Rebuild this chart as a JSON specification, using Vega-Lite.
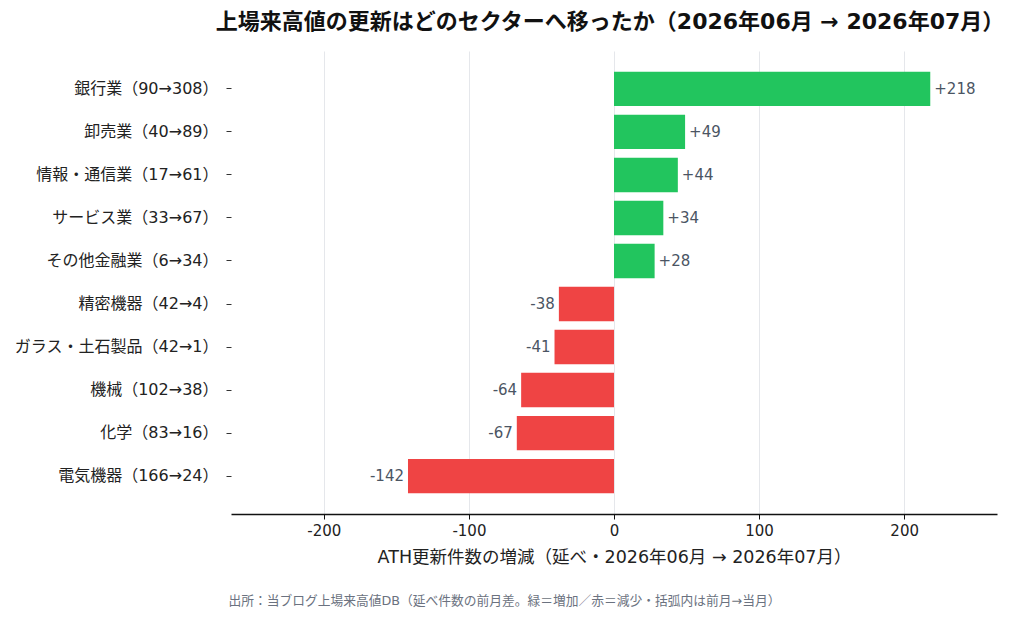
{
  "$schema": "https://vega.github.io/schema/vega-lite/v6.json",
  "width": 766,
  "height": 463,
  "autosize": {"type": "none"},
  "padding": {"left": 231, "top": 51, "right": 27, "bottom": 106},
  "background": "white",
  "config": {
    "font": "DejaVu Sans, Noto Sans CJK JP",
    "view": {"stroke": null},
    "locale": {
      "number": {
        "decimal": ".",
        "thousands": ",",
        "grouping": [3],
        "currency": ["$", ""],
        "minus": "-"
      }
    }
  },
  "title": {
    "text": "上場来高値の更新はどのセクターへ移ったか（2026年06月 → 2026年07月）",
    "fontSize": 22,
    "fontWeight": "bold",
    "color": "#111111",
    "anchor": "middle",
    "dx": -4,
    "offset": 17
  },
  "data": {
    "values": [
      {"label": "銀行業（90→308）", "delta": 218},
      {"label": "卸売業（40→89）", "delta": 49},
      {"label": "情報・通信業（17→61）", "delta": 44},
      {"label": "サービス業（33→67）", "delta": 34},
      {"label": "その他金融業（6→34）", "delta": 28},
      {"label": "精密機器（42→4）", "delta": -38},
      {"label": "ガラス・土石製品（42→1）", "delta": -41},
      {"label": "機械（102→38）", "delta": -64},
      {"label": "化学（83→16）", "delta": -67},
      {"label": "電気機器（166→24）", "delta": -142}
    ]
  },
  "encoding": {
    "y": {
      "field": "label",
      "type": "nominal",
      "sort": null,
      "scale": {"paddingInner": 0.2, "paddingOuter": 0.48},
      "axis": {
        "title": null,
        "domain": false,
        "ticks": true,
        "tickSize": 5,
        "tickColor": "#333333",
        "labelPadding": 8,
        "labelFontSize": 16,
        "labelColor": "#222222",
        "labelLimit": 300
      }
    }
  },
  "layer": [
    {
      "mark": {"type": "bar"},
      "encoding": {
        "x": {
          "field": "delta",
          "type": "quantitative",
          "scale": {"domain": [-264, 264], "nice": false, "zero": false},
          "axis": {
            "title": "ATH更新件数の増減（延べ・2026年06月 → 2026年07月）",
            "titleFontSize": 17.5,
            "titleFontWeight": "normal",
            "titleColor": "#222222",
            "titlePadding": 10,
            "values": [-200, -100, 0, 100, 200],
            "labelFontSize": 15,
            "labelColor": "#222222",
            "labelPadding": 4,
            "grid": true,
            "gridColor": "#e5e7eb",
            "domainColor": "#111111",
            "domainWidth": 1.3,
            "tickColor": "#111111",
            "tickSize": 5
          }
        },
        "color": {
          "condition": {"test": "datum.delta > 0", "value": "#22c55e"},
          "value": "#ef4444"
        }
      }
    },
    {
      "transform": [{"filter": "datum.delta > 0"}],
      "mark": {"type": "text", "align": "left", "dx": 4, "fontSize": 15, "color": "#4b5563"},
      "encoding": {
        "x": {"field": "delta", "type": "quantitative", "axis": null},
        "text": {"field": "delta", "type": "quantitative", "format": "+d"}
      }
    },
    {
      "transform": [{"filter": "datum.delta < 0"}],
      "mark": {"type": "text", "align": "right", "dx": -4, "fontSize": 15, "color": "#4b5563"},
      "encoding": {
        "x": {"field": "delta", "type": "quantitative", "axis": null},
        "text": {"field": "delta", "type": "quantitative", "format": "+d"}
      }
    },
    {
      "mark": {"type": "rule", "color": "#374151", "strokeWidth": 1.5},
      "encoding": {
        "x": {
          "datum": 0,
          "type": "quantitative",
          "axis": {
            "orient": "bottom",
            "labels": false,
            "ticks": false,
            "domain": false,
            "grid": false,
            "title": "出所：当ブログ上場来高値DB（延べ件数の前月差。緑＝増加／赤＝減少・括弧内は前月→当月）",
            "titleFontSize": 12.75,
            "titleFontWeight": "normal",
            "titleColor": "#6b7280",
            "titleAnchor": "start",
            "titleAlign": "left",
            "titleBaseline": "middle",
            "titleX": -3,
            "titleY": 86
          }
        }
      }
    }
  ],
  "resolve": {"axis": {"x": "independent"}}
}
